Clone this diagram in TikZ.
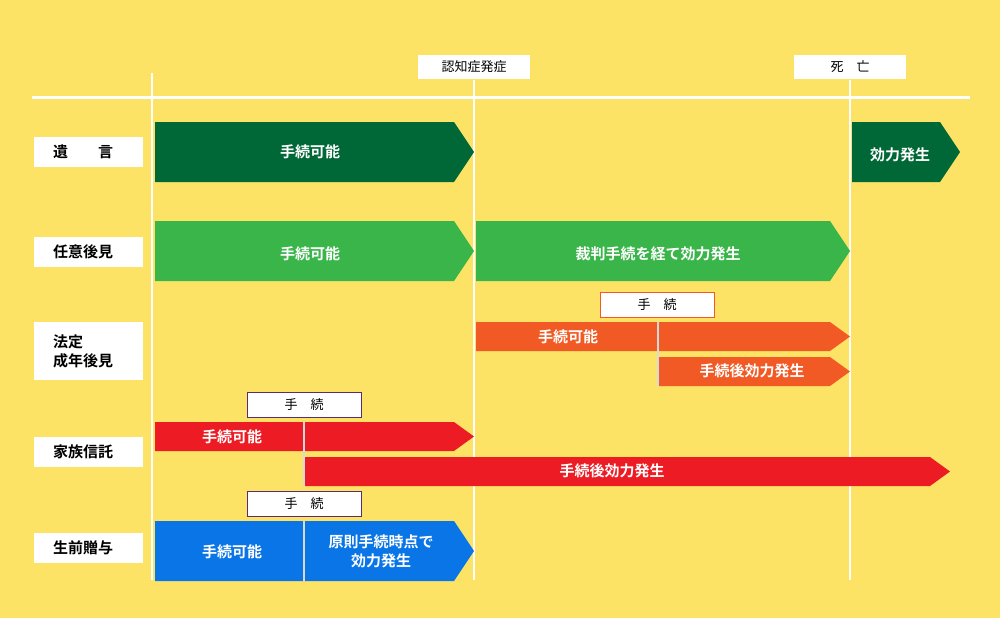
\documentclass[tikz,border=0pt]{standalone}
\usepackage{fontspec}
\newfontfamily\jpfont{Noto Sans CJK JP}[BoldFont={Noto Sans CJK JP Bold}]
\usetikzlibrary{positioning}
\definecolor{bgyellow}{HTML}{FCE366}
\definecolor{darkgreen}{HTML}{006837}
\definecolor{midgreen}{HTML}{3AB54A}
\definecolor{orangebar}{HTML}{F15A24}
\definecolor{redbar}{HTML}{ED1C24}
\definecolor{bluebar}{HTML}{0A75E6}
\definecolor{framepurple}{HTML}{5B2C6F}

% band with arrow tip: x1, x2 (tip), top, bottom, colour
\newcommand{\tipband}[5]{%
  \fill[#5] (#1,#3) -- ({#2-20},#3) -- (#2,{(#3+#4)/2}) -- ({#2-20},#4) -- (#1,#4) -- cycle;}

\begin{document}
\begin{tikzpicture}[x=1pt,y=-1pt,
    every node/.style={font=\jpfont\bfseries\fontsize{15}{19}\selectfont},
    rowlabel/.style={fill=white, minimum width=109pt, minimum height=30pt, inner sep=0pt, align=left, text width=90pt},
    eventbox/.style={fill=white, minimum width=112pt, minimum height=24pt, inner sep=0pt, font=\jpfont\fontsize{13}{15}\selectfont},
    stepbox/.style={fill=white, draw=#1, minimum width=114pt, minimum height=25pt, inner sep=0pt, font=\jpfont\fontsize{13}{15}\selectfont},
    bartext/.style={text=white, align=center},
    divider/.style={draw=white!70!gray, line width=1.2pt}]

  \fill[bgyellow] (0,0) rectangle (1000,618);
  \useasboundingbox (0,0) rectangle (1000,618);

  % time axis
  \draw[white, line width=3pt] (32,97) -- (970,97);
  \draw[white, line width=2pt] (152,73) -- (152,580);
  \draw[white, line width=2pt] (474,80) -- (474,580);
  \draw[white, line width=2pt] (850,80) -- (850,580);
  \node[eventbox] (onset) at (474,67) {認知症発症};
  \node[eventbox] (death) at (850,67) {死　亡};

  % row labels
  \node[rowlabel] (will) at (88,152) {\hspace*{10pt}遺　　言};
  \node[rowlabel] (guard) at (88,252) {\hspace*{10pt}任意後見};
  \node[rowlabel, minimum height=58pt] (legal) at (88,351) {\hspace*{10pt}法定\\\hspace*{10pt}成年後見};
  \node[rowlabel] (trust) at (88,452) {\hspace*{10pt}家族信託};
  \node[rowlabel] (gift) at (88,548) {\hspace*{10pt}生前贈与};

  % will
  \tipband{155}{474}{122}{182}{darkgreen}
  \node[bartext] (willA) at (310,152) {手続可能};
  \tipband{852}{960}{122}{182}{darkgreen}
  \node[bartext] (willB) at (900,155) {効力発生};

  % voluntary guardianship
  \tipband{155}{474}{221}{281}{midgreen}
  \node[bartext] (guardA) at (310,254) {手続可能};
  \tipband{476}{850}{221}{281}{midgreen}
  \node[bartext] (guardB) at (658,254) {裁判手続を経て効力発生};

  % legal guardianship
  \node[stepbox=orangebar] (legalstep) at (657,305) {手　続};
  \tipband{476}{850}{322}{351}{orangebar}
  \node[bartext] (legalA) at (568,337) {手続可能};
  \tipband{659}{850}{357}{386}{orangebar}
  \node[bartext] (legalB) at (752,371) {手続後効力発生};
  \draw[divider] (658,322) -- (658,386);

  % family trust
  \node[stepbox=framepurple] (truststep) at (304,405) {手　続};
  \tipband{155}{474}{422}{451}{redbar}
  \node[bartext] (trustA) at (232,437) {手続可能};
  \tipband{305}{950}{457}{486}{redbar}
  \node[bartext] (trustB) at (612,471) {手続後効力発生};
  \draw[divider] (304,422) -- (304,486);

  % gift
  \node[stepbox=framepurple] (giftstep) at (304,504) {手　続};
  \tipband{155}{474}{521}{581}{bluebar}
  \node[bartext] (giftA) at (232,552) {手続可能};
  \node[bartext] (giftB) at (381,551) {原則手続時点で\\効力発生};
  \draw[divider] (304,521) -- (304,581);
\end{tikzpicture}
\end{document}
